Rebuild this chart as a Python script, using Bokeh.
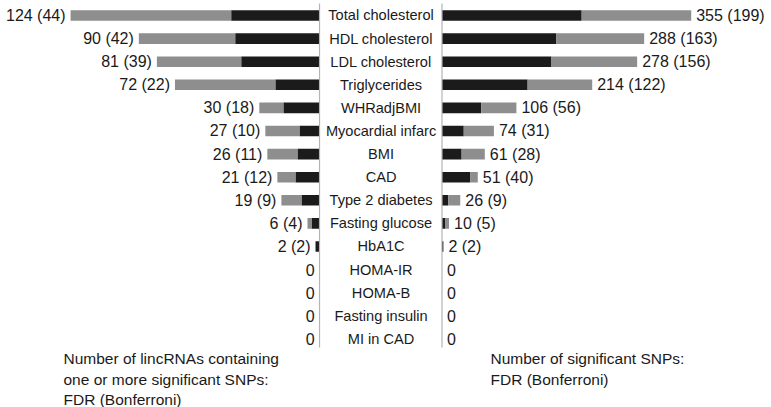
from bokeh.plotting import figure
from bokeh.models import Range1d, ColumnDataSource, Label
from bokeh.core.properties import value
from bokeh.embed import file_html
from bokeh.resources import INLINE

categories = ["Total cholesterol", "HDL cholesterol", "LDL cholesterol", "Triglycerides",
              "WHRadjBMI", "Myocardial infarc", "BMI", "CAD", "Type 2 diabetes",
              "Fasting glucose", "HbA1C", "HOMA-IR", "HOMA-B", "Fasting insulin", "MI in CAD"]
lnc_fdr = [124, 90, 81, 72, 30, 27, 26, 21, 19, 6, 2, 0, 0, 0, 0]
lnc_bonf = [44, 42, 39, 22, 18, 10, 11, 12, 9, 4, 2, 0, 0, 0, 0]
snp_fdr = [355, 288, 278, 214, 106, 74, 61, 51, 26, 10, 2, 0, 0, 0, 0]
snp_bonf = [199, 163, 156, 122, 56, 31, 28, 40, 9, 5, 2, 0, 0, 0, 0]
left_note = ["Number of lincRNAs containing", "one or more significant SNPs:", "FDR (Bonferroni)"]
right_note = ["Number of significant SNPs:", "FDR (Bonferroni)"]

BLACK = "#1b1b1b"
GRAY = "#8e8e8e"
LINE = "#b4b4b4"
TXT = "#1a1a1a"
FONT = "Liberation Sans"

def lab(f, b):
    return f"{f} ({b})" if f > 0 else "0"

ypos = list(range(len(categories)))
src = ColumnDataSource(dict(
    y=ypos, cat=categories,
    lf=lnc_fdr, lb=lnc_bonf, sf=snp_fdr, sb=snp_bonf,
    zero=[0] * len(categories),
    ll=[lab(f, b) for f, b in zip(lnc_fdr, lnc_bonf)],
    sl=[lab(f, b) for f, b in zip(snp_fdr, snp_bonf)],
))

p = figure(width=771, height=407,
           x_range=Range1d(-628.9, 469.4),
           y_range=Range1d(16.97, -0.649),
           extra_x_ranges={"lnc": Range1d(158.9, -225.1)},
           output_backend="svg", toolbar_location=None, min_border=0)
p.axis.visible = False
p.xgrid.grid_line_color = None
p.ygrid.grid_line_color = None
p.outline_line_color = None
p.background_fill_color = "white"
p.border_fill_color = "white"

H = 0.46
# left (lincRNAs)
p.hbar(y="y", left="zero", right="lb", height=H, color=BLACK, line_color=None,
       source=src, x_range_name="lnc")
p.hbar(y="y", left="lb", right="lf", height=H, color=GRAY, line_color=None,
       source=src, x_range_name="lnc")
# right (SNPs)
p.hbar(y="y", left="zero", right="sb", height=H, color=BLACK, line_color=None, source=src)
p.hbar(y="y", left="sb", right="sf", height=H, color=GRAY, line_color=None, source=src)

# divider lines
p.segment(x0=[0], x1=[0], y0=[-0.52], y1=[14.37], line_color=LINE, line_width=1.2,
          x_range_name="lnc")
p.segment(x0=[0], x1=[0], y0=[-0.52], y1=[14.37], line_color=LINE, line_width=1.2)

# value labels
p.text(x="lf", y="y", text="ll", source=src, x_range_name="lnc", x_offset=-5,
       text_align="right", text_baseline="middle", text_font=value(FONT),
       text_font_size="16px", text_color=TXT)
p.text(x="sf", y="y", text="sl", source=src, x_offset=5,
       text_align="left", text_baseline="middle", text_font=value(FONT),
       text_font_size="16px", text_color=TXT)

# category labels in the middle
p.text(x="zero", y="y", text="cat", source=src, x_range_name="lnc", x_offset=61.5,
       text_align="center", text_baseline="middle", text_font=value(FONT),
       text_font_size="14.6px", text_color=TXT)

# notes
for i, t in enumerate(left_note):
    p.add_layout(Label(x=63, y=49 - 20.5 * i, x_units="screen", y_units="screen", text=t,
                       text_baseline="middle", text_font=FONT, text_font_size="15.5px",
                       text_color=TXT))
for i, t in enumerate(right_note):
    p.add_layout(Label(x=490, y=49 - 20.5 * i, x_units="screen", y_units="screen", text=t,
                       text_baseline="middle", text_font=FONT, text_font_size="15.5px",
                       text_color=TXT))

open("out.html", "w").write(file_html(p, INLINE))
